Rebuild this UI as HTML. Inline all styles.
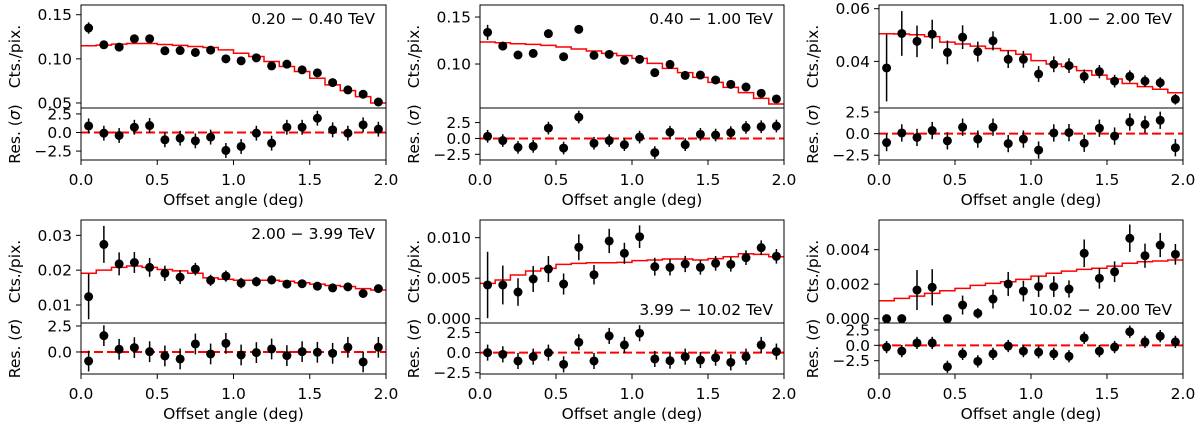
<!DOCTYPE html>
<html><head><meta charset="utf-8">
<style>
html,body{margin:0;padding:0;background:#fff;}
svg{display:block;font-family:"DejaVu Sans","Liberation Sans",sans-serif;}
</style></head>
<body>
<svg id="chart" width="1200" height="426" viewBox="0 0 1200 426" xmlns="http://www.w3.org/2000/svg"></svg>
<script>
const offsets=[0.05,0.15,0.25,0.35,0.45,0.55,0.65,0.75,0.85,0.95,1.05,1.15,1.25,1.35,1.45,1.55,1.65,1.75,1.85,1.95];
const xTickLabels=["0.0","0.5","1.0","1.5","2.0"];
const resTickLabels=["2.5","0.0","\u22122.5"];
const energyLabels=["0.20 \u2212 0.40 TeV","0.40 \u2212 1.00 TeV","1.00 \u2212 2.00 TeV","2.00 \u2212 3.99 TeV","3.99 \u2212 10.02 TeV","10.02 \u2212 20.00 TeV"];

const p1Counts=[0.1349,0.1159,0.1133,0.1227,0.1227,0.1091,0.1094,0.1072,0.1099,0.1000,0.0977,0.1011,0.0920,0.0940,0.0875,0.0841,0.0731,0.0648,0.0599,0.0511];
const p1Err=[0.0065,0.004,0.003,0.0025,0.0025,0.002,0.002,0.002,0.002,0.002,0.0018,0.0018,0.0018,0.0018,0.0017,0.0016,0.0015,0.0015,0.0014,0.0013];
const p1Model=[0.1148,0.1155,0.1167,0.1174,0.1174,0.1163,0.1152,0.1140,0.1129,0.1102,0.1064,0.1027,0.0970,0.0913,0.0856,0.0780,0.0705,0.0640,0.0572,0.0500];
const p1Res=[0.89,-0.09,-0.40,0.71,0.94,-0.98,-0.76,-1.12,-0.62,-2.41,-1.88,-0.09,-1.43,0.71,0.71,1.92,0.36,-0.09,1.03,0.45];

const p2Counts=[0.1337,0.1191,0.1096,0.1113,0.1323,0.1078,0.1369,0.1092,0.1103,0.1039,0.1050,0.0908,0.0996,0.0879,0.0883,0.0830,0.0784,0.0755,0.0688,0.0628];
const p2Err=[0.008,0.0047,0.0033,0.003,0.003,0.0028,0.0028,0.0025,0.0025,0.0024,0.0024,0.0023,0.0023,0.0022,0.0022,0.0021,0.0021,0.002,0.002,0.002];
const p2Model=[0.1234,0.1227,0.1216,0.1209,0.1199,0.1181,0.1160,0.1138,0.1113,0.1089,0.1060,0.1007,0.0954,0.0908,0.0858,0.0805,0.0752,0.0695,0.0635,0.0574];
const p2Res=[0.33,-0.33,-1.41,-1.25,1.63,-1.52,3.37,-0.76,-0.33,-0.98,0.22,-2.23,0.98,-0.98,0.65,0.54,0.92,1.74,1.85,1.96];

const p3Counts=[0.0375,0.0506,0.0476,0.0503,0.0434,0.0492,0.0437,0.0478,0.0408,0.0408,0.0352,0.0389,0.0384,0.0343,0.0361,0.0325,0.0343,0.0325,0.0319,0.0256];
const p3Err=[0.0127,0.0085,0.006,0.0055,0.0045,0.0045,0.0038,0.0036,0.0033,0.0032,0.003,0.003,0.0028,0.0026,0.0025,0.0024,0.0023,0.0022,0.0021,0.002];
const p3Model=[0.0505,0.0504,0.0501,0.0494,0.0473,0.0466,0.0458,0.0449,0.0441,0.0427,0.0403,0.0390,0.0380,0.0365,0.0348,0.0333,0.0316,0.0304,0.0294,0.0281];
const p3Res=[-1.03,0.08,-0.44,0.36,-0.83,0.75,-0.63,0.75,-1.15,-0.63,-1.90,0.08,0.12,-1.11,0.63,-0.28,1.35,1.07,1.55,-1.63];

const p4Counts=[0.0124,0.0274,0.0218,0.0222,0.0208,0.0191,0.0180,0.0203,0.0171,0.0183,0.0163,0.0167,0.0172,0.0160,0.0161,0.0154,0.0149,0.0152,0.0133,0.0147];
const p4Err=[0.0065,0.0053,0.0033,0.003,0.0027,0.0022,0.002,0.0018,0.0016,0.0016,0.0015,0.0014,0.0013,0.0012,0.0012,0.0011,0.0011,0.001,0.001,0.001];
const p4Model=[0.0191,0.0200,0.0208,0.0212,0.0208,0.0202,0.0198,0.0191,0.0178,0.0174,0.0171,0.0171,0.0171,0.0168,0.0164,0.0160,0.0156,0.0153,0.0147,0.0143];
const p4Res=[-0.87,1.57,0.26,0.42,0.03,-0.38,-0.67,0.77,-0.19,0.83,-0.29,-0.06,0.29,-0.35,0.03,-0.03,-0.13,0.45,-0.96,0.45];

const p5Counts=[0.00416,0.00416,0.00329,0.00490,0.00613,0.00428,0.00881,0.00543,0.00959,0.00807,0.01012,0.00642,0.00634,0.00675,0.00634,0.00683,0.00671,0.00753,0.00877,0.00770];
const p5Err=[0.0041,0.0024,0.0017,0.0016,0.0016,0.0013,0.0016,0.0012,0.0015,0.0013,0.0014,0.0011,0.001,0.001,0.0009,0.0009,0.0009,0.0009,0.0009,0.0009];
const p5Model=[0.00436,0.00477,0.00539,0.00588,0.00621,0.00671,0.00683,0.00691,0.00691,0.00695,0.00716,0.00724,0.00737,0.00737,0.00724,0.00741,0.00765,0.00802,0.00794,0.00765];
const p5Res=[0,-0.21,-1.04,-0.5,0,-1.46,1.29,-1.04,2.08,0.96,2.42,-0.79,-1.0,-0.5,-0.92,-0.63,-1.21,-0.5,0.96,0.13];

const p6Counts=[0,0,0.00166,0.00182,0,0.00079,0.00031,0.00114,0.00201,0.00160,0.00186,0.00186,0.00172,0.00379,0.00234,0.00272,0.00466,0.00365,0.00427,0.00373];
const p6Err=[0,0,0.00116,0.00105,0,0.00055,0.0003,0.00055,0.0007,0.0006,0.0006,0.0006,0.0005,0.0008,0.0006,0.0006,0.0008,0.0007,0.0007,0.0006];
const p6Model=[0.00104,0.00118,0.00131,0.00147,0.00162,0.00176,0.00193,0.00205,0.00214,0.00228,0.00247,0.00263,0.00276,0.00286,0.00292,0.00305,0.00321,0.00330,0.00334,0.00340];
const p6Res=[-0.28,-0.94,0.39,0.39,-3.5,-1.39,-2.61,-1.39,-0.11,-0.94,-1.11,-1.39,-1.78,1.22,-0.94,-0.28,2.22,0.56,1.5,0.56];

const p1Ticks=[0.05,0.10,0.15], p1TickLabels=["0.05","0.10","0.15"];
const p2Ticks=[0.10,0.15], p2TickLabels=["0.10","0.15"];
const p3Ticks=[0.04,0.06], p3TickLabels=["0.04","0.06"];
const p4Ticks=[0.01,0.02,0.03], p4TickLabels=["0.01","0.02","0.03"];
const p5Ticks=[0,0.005,0.010], p5TickLabels=["0.000","0.005","0.010"];
const p6Ticks=[0,0.002,0.004], p6TickLabels=["0.000","0.002","0.004"];

const NS="http://www.w3.org/2000/svg";
const svg=document.getElementById('chart');
function mk(tag,attrs,parent){const e=document.createElementNS(NS,tag);for(const k in attrs)e.setAttribute(k,attrs[k]);(parent||svg).appendChild(e);return e;}

const panels=[
 {L:81,R:386,T:5,M:108,B:160,ymin:0.0443,ymax:0.161,rmin:-3.7,rmax:3.3,counts:p1Counts,err:p1Err,model:p1Model,res:p1Res,ticks:p1Ticks,tl:p1TickLabels,rt:[2.5,0,-2.5],label:energyLabels[0],lblTop:true},
 {L:480,R:784,T:5,M:108,B:160,ymin:0.0532,ymax:0.1628,rmin:-3.4,rmax:4.8,counts:p2Counts,err:p2Err,model:p2Model,res:p2Res,ticks:p2Ticks,tl:p2TickLabels,rt:[2.5,0,-2.5],label:energyLabels[1],lblTop:true},
 {L:879,R:1183,T:5,M:108,B:160,ymin:0.0223,ymax:0.0614,rmin:-3.05,rmax:2.97,counts:p3Counts,err:p3Err,model:p3Model,res:p3Res,ticks:p3Ticks,tl:p3TickLabels,rt:[2.5,0,-2.5],label:energyLabels[2],lblTop:true},
 {L:81,R:386,T:220,M:323,B:374,ymin:0.00483,ymax:0.0344,rmin:-2.12,rmax:2.79,counts:p4Counts,err:p4Err,model:p4Model,res:p4Res,ticks:p4Ticks,tl:p4TickLabels,rt:[2.5,0],label:energyLabels[3],lblTop:true},
 {L:480,R:784,T:220,M:323,B:374,ymin:-0.00053,ymax:0.01218,rmin:-2.66,rmax:3.69,counts:p5Counts,err:p5Err,model:p5Model,res:p5Res,ticks:p5Ticks,tl:p5TickLabels,rt:[2.5,0,-2.5],label:energyLabels[4],lblTop:false},
 {L:879,R:1183,T:220,M:323,B:374,ymin:-0.00025,ymax:0.00572,rmin:-4.67,rmax:3.64,counts:p6Counts,err:p6Err,model:p6Model,res:p6Res,ticks:p6Ticks,tl:p6TickLabels,rt:[2.5,0,-2.5],label:energyLabels[5],lblTop:false}
];
const FS=15.5;
panels.forEach((p,i)=>{
  const g=mk('g',{});
  
  
  const x=v=>p.L+(v/2)*(p.R-p.L);
  const y=v=>p.M-(v-p.ymin)/(p.ymax-p.ymin)*(p.M-p.T);
  const yr=v=>p.B-(v-p.rmin)/(p.rmax-p.rmin)*(p.B-p.M);
  const cid='clip'+i;
  const cp=mk('clipPath',{id:cid},g);mk('rect',{x:p.L,y:p.T,width:p.R-p.L,height:p.M-p.T},cp);
  const cid2='clipr'+i;
  const cp2=mk('clipPath',{id:cid2},g);mk('rect',{x:p.L,y:p.M,width:p.R-p.L,height:p.B-p.M},cp2);
  let d='';
  p.model.forEach((m,k)=>{const x0=x(k*0.1),x1=x((k+1)*0.1),yy=y(m);d+=(k===0?'M':'L')+x0.toFixed(2)+','+yy.toFixed(2)+'L'+x1.toFixed(2)+','+yy.toFixed(2);});
  const ml=mk('path',{d:d,fill:'none',stroke:'#ff0000','stroke-width':1.5,'clip-path':'url(#'+cid+')'},g);
  
  
  p.counts.forEach((c,k)=>{
    const cx=x(offsets[k]);
    if(p.err[k]>0){const eb=mk('line',{x1:cx,x2:cx,y1:y(c-p.err[k]),y2:y(c+p.err[k]),stroke:'#000','stroke-width':1.5,'clip-path':'url(#'+cid+')'},g);
      
      }
    const pt=mk('circle',{cx:cx,cy:y(c),r:4.5,fill:'#000','clip-path':'url(#'+cid+')'},g);
    
    
  });
  const zl=mk('line',{x1:p.L,x2:p.R,y1:yr(0),y2:yr(0),stroke:'#ff0000','stroke-width':2,'stroke-dasharray':'9,4'},g);
  
  
  p.res.forEach((r,k)=>{
    const cx=x(offsets[k]);
    const eb=mk('line',{x1:cx,x2:cx,y1:yr(r-1),y2:yr(r+1),stroke:'#000','stroke-width':1.5,'clip-path':'url(#'+cid2+')'},g);
    
    
    const pt=mk('circle',{cx:cx,cy:yr(r),r:4.5,fill:'#000','clip-path':'url(#'+cid2+')'},g);
    
    
  });
  const f1=mk('rect',{x:p.L,y:p.T,width:p.R-p.L,height:p.M-p.T,fill:'none',stroke:'#000','stroke-width':1},g);
  
  
  const f2=mk('rect',{x:p.L,y:p.M,width:p.R-p.L,height:p.B-p.M,fill:'none',stroke:'#000','stroke-width':1},g);
  
  
  p.ticks.forEach((t,k)=>{
    const yy=y(t);
    mk('line',{x1:p.L-5,x2:p.L,y1:yy,y2:yy,stroke:'#000','stroke-width':1},g);
    const tx=mk('text',{x:p.L-9,y:yy+5.5,'text-anchor':'end','font-size':FS,fill:'#000'},g);
    tx.textContent=p.tl[k];
    
    
  });
  p.rt.forEach((t,k)=>{
    const yy=yr(t);
    mk('line',{x1:p.L-5,x2:p.L,y1:yy,y2:yy,stroke:'#000','stroke-width':1},g);
    const tx=mk('text',{x:p.L-9,y:yy+5.5,'text-anchor':'end','font-size':FS,fill:'#000'},g);
    tx.textContent=resTickLabels[[2.5,0,-2.5].indexOf(t)];
    
    
  });
  xTickLabels.forEach((lab,k)=>{
    const xx=x(k*0.5);
    mk('line',{x1:xx,x2:xx,y1:p.B,y2:p.B+5,stroke:'#000','stroke-width':1},g);
    const tx=mk('text',{x:xx,y:p.B+25,'text-anchor':'middle','font-size':FS,fill:'#000'},g);
    tx.textContent=lab;
    
    
  });
  const xt=mk('text',{x:(p.L+p.R)/2,y:p.B+45,'text-anchor':'middle','font-size':FS,fill:'#000'},g);
  xt.textContent='Offset angle (deg)';
  
  
  const cy1=(p.T+p.M)/2, lx=p.L-61;
  const yt=mk('text',{x:lx,y:cy1,'text-anchor':'middle','font-size':FS,fill:'#000',transform:'rotate(-90 '+lx+' '+cy1+')'},g);
  yt.textContent='Cts./pix.';
  
  
  const cy2=(p.M+p.B)/2;
  const rtt=mk('text',{x:lx,y:cy2,'text-anchor':'middle','font-size':FS,fill:'#000',transform:'rotate(-90 '+lx+' '+cy2+')'},g);
  rtt.innerHTML='Res. (<tspan font-style="italic">\u03c3</tspan>)';
  
  
  const el=mk('text',{x:p.R-11,y:p.lblTop?p.T+19:p.M-8,'text-anchor':'end','font-size':FS,fill:'#000'},g);
  el.textContent=p.label;
  
  
});
</script>
</body></html>
